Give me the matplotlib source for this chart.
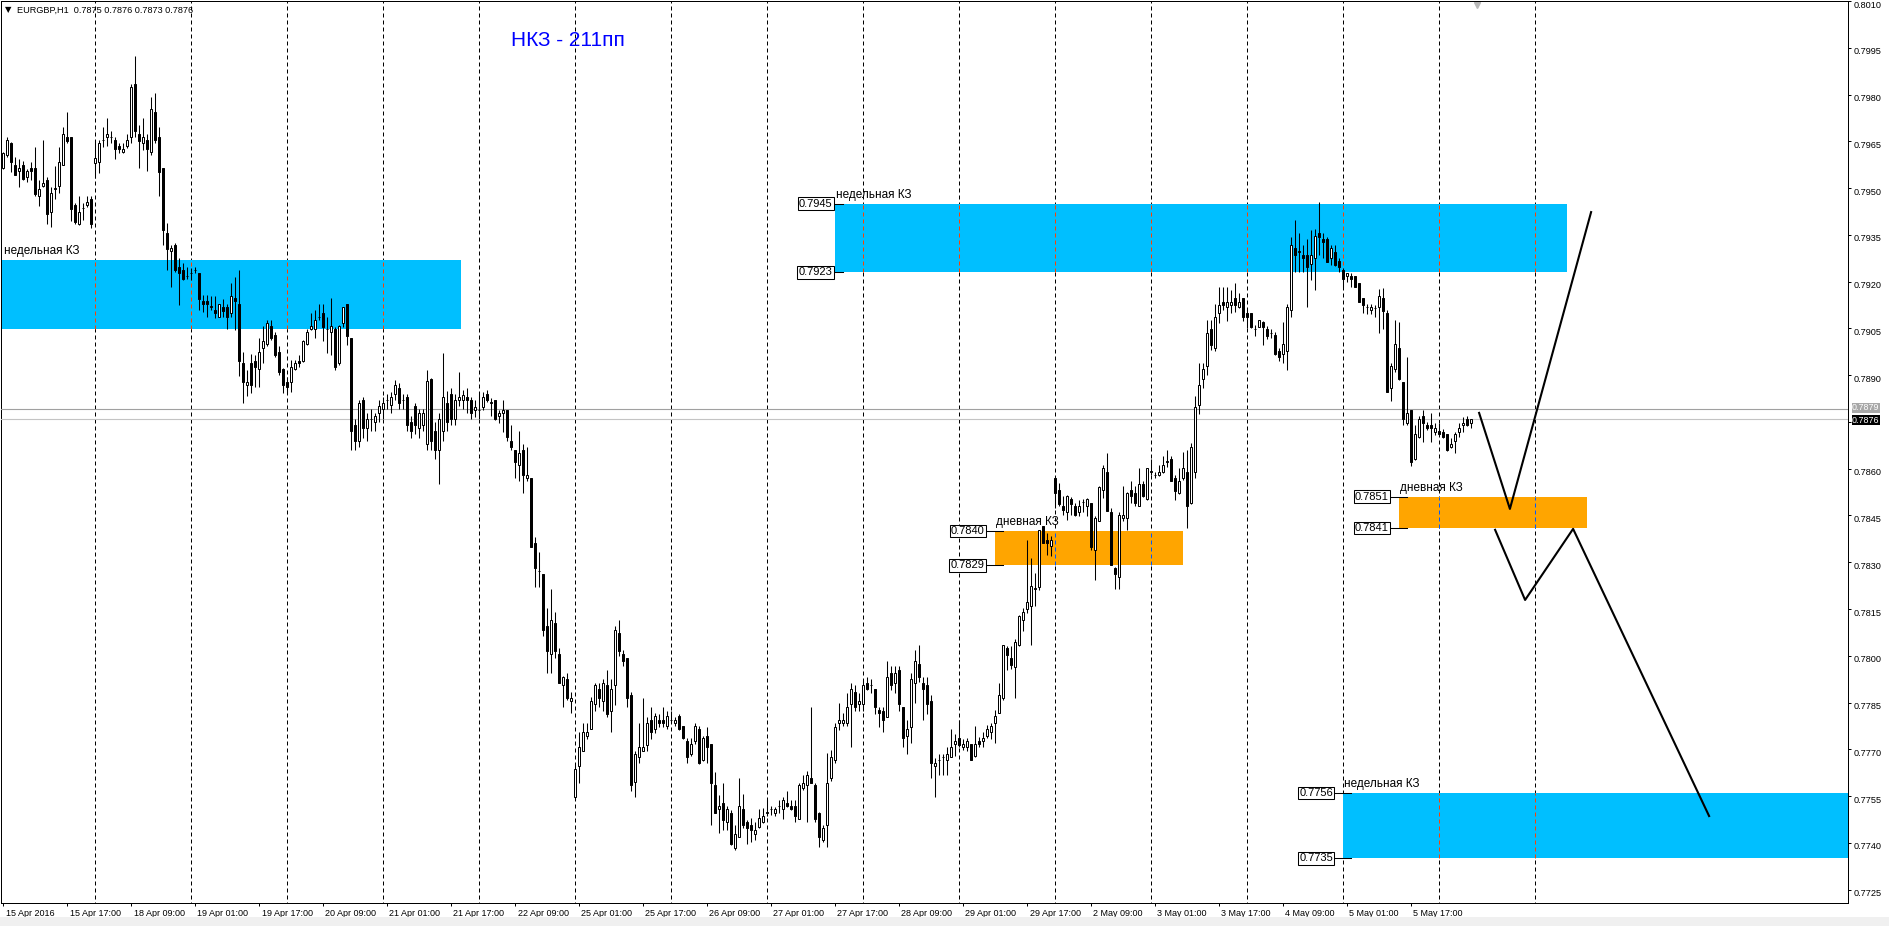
import matplotlib
matplotlib.use("Agg")
import matplotlib.pyplot as plt
import matplotlib.transforms as mtransforms
from matplotlib.patches import Rectangle
import numpy as np

plt.rcParams['font.family'] = ['Liberation Sans', 'DejaVu Sans']

# EURGBP H1, one candle per hour from 15 Apr 2016 01:00, prices in pips (x 0.0001)
opens = [
    7956.3, 7960.5, 7964.4, 7957.3, 7955.4, 7957.3, 7953.5, 7956.5, 7956.5, 7947.3,
    7950.7, 7952.6, 7942.4, 7949.8, 7950.7, 7957.4, 7966.3, 7966.3, 7944.6, 7938.4,
    7943.5, 7944.5, 7946.5, 7958.2, 7958.3, 7965.4, 7966.3, 7966.3, 7965.4, 7963.5,
    7961.5, 7963.5, 7966.3, 7983.4, 7967.4, 7964.4, 7965.4, 7961.5, 7974.4, 7966.3,
    7956.5, 7935.5, 7929.7, 7931.8, 7924.6, 7923.7, 7921.8, 7922.7, 7923.7, 7922.7,
    7913.7, 7913.7, 7912.0, 7910.9, 7908.8, 7911.8, 7911.8, 7909.8, 7914.7, 7912.7,
    7893.8, 7886.9, 7893.8, 7894.7, 7891.9, 7898.6, 7899.9, 7905.9, 7902.9, 7897.5,
    7891.9, 7887.7, 7887.7, 7891.9, 7894.7, 7894.7, 7899.9, 7904.7, 7904.7, 7908.6,
    7909.8, 7904.7, 7903.7, 7904.7, 7893.8, 7906.6, 7912.7, 7901.8, 7874.0, 7869.0,
    7882.0, 7873.0, 7876.0, 7875.0, 7878.0, 7879.0, 7882.0, 7880.5, 7884.0, 7886.0,
    7882.0, 7883.0, 7875.0, 7880.0, 7873.0, 7874.0, 7868.0, 7888.7, 7872.0, 7866.0,
    7872.0, 7881.0, 7884.0, 7876.0, 7882.0, 7882.0, 7883.0, 7882.1, 7878.9, 7878.9,
    7879.9, 7883.9, 7881.2, 7882.1, 7876.9, 7877.8, 7878.9, 7869.0, 7866.0, 7861.2,
    7866.0, 7856.9, 7856.9, 7836.1, 7827.2, 7826.2, 7809.4, 7800.6, 7810.4, 7800.6,
    7790.5, 7792.5, 7785.4, 7754.6, 7764.5, 7769.3, 7774.4, 7776.5, 7784.5, 7789.3,
    7785.4, 7790.6, 7782.4, 7790.7, 7807.2, 7800.6, 7799.2, 7787.4, 7759.5, 7767.5,
    7769.3, 7771.4, 7779.4, 7776.5, 7779.4, 7779.4, 7777.5, 7779.4, 7778.4, 7780.7,
    7777.5, 7772.7, 7768.5, 7772.7, 7776.5, 7766.6, 7774.4, 7771.8, 7758.6, 7750.8,
    7752.7, 7746.8, 7749.5, 7738.3, 7741.8, 7750.8, 7746.8, 7745.8, 7742.9, 7745.0,
    7746.8, 7749.7, 7750.8, 7749.7, 7751.9, 7750.8, 7752.7, 7751.9, 7751.9, 7747.6,
    7757.5, 7758.6, 7760.7, 7758.6, 7749.5, 7741.0, 7745.8, 7760.7, 7766.6, 7778.4,
    7778.4, 7778.4, 7784.5, 7788.4, 7784.5, 7784.5, 7791.4, 7790.6, 7789.3, 7782.7,
    7782.4, 7780.5, 7794.4, 7791.4, 7795.5, 7783.5, 7774.4, 7777.3, 7791.4, 7797.4,
    7791.4, 7790.6, 7785.4, 7764.5, 7766.6, 7767.5, 7766.6, 7767.5, 7771.8, 7773.6,
    7770.9, 7770.9, 7771.8, 7767.7, 7772.8, 7772.8, 7774.3, 7775.7, 7778.4, 7781.6,
    7786.4, 7802.4, 7799.2, 7796.4, 7803.5, 7811.5, 7815.0, 7816.1, 7821.5, 7822.0,
    7841.5, 7837.2, 7835.3, 7857.0, 7853.2, 7848.1, 7846.1, 7850.2, 7848.1, 7846.1,
    7849.2, 7848.1, 7849.0, 7834.0, 7843.1, 7853.2, 7859.1, 7846.1, 7828.1, 7825.2,
    7844.1, 7844.1, 7853.2, 7852.2, 7848.1, 7855.1, 7850.3, 7859.1, 7858.0, 7858.0,
    7859.1, 7862.3, 7863.1, 7857.0, 7852.2, 7857.0, 7859.1, 7849.0, 7859.1, 7880.5,
    7888.7, 7892.8, 7904.7, 7898.6, 7909.8, 7913.6, 7911.8, 7912.5, 7914.7, 7911.8,
    7914.7, 7909.8, 7909.8, 7904.7, 7905.6, 7906.9, 7904.7, 7903.6, 7902.9, 7897.8,
    7896.7, 7897.6, 7910.9, 7930.7, 7929.6, 7928.6, 7928.6, 7925.7, 7927.5, 7935.5,
    7933.6, 7933.6, 7927.5, 7929.6, 7926.6, 7923.7, 7921.8, 7921.8, 7921.8, 7919.7,
    7914.7, 7911.8, 7910.9, 7911.4, 7911.8, 7914.7, 7909.8, 7885.8, 7891.9, 7898.6,
    7887.7, 7874.8, 7878.8, 7863.0, 7870.1, 7876.9, 7874.0, 7874.0, 7871.9, 7872.2,
    7871.9, 7871.1, 7866.9, 7869.0, 7871.9, 7874.0, 7875.9, 7874.8,
]
highs = [
    7961.7, 7966.3, 7964.9, 7960.1, 7959.4, 7958.7, 7956.2, 7958.4, 7963.3, 7952.6,
    7965.4, 7953.6, 7950.5, 7957.2, 7963.3, 7969.5, 7974.4, 7966.5, 7945.1, 7947.5,
    7945.1, 7947.3, 7947.3, 7965.4, 7965.4, 7969.5, 7972.4, 7968.4, 7966.3, 7964.4,
    7964.4, 7967.4, 7983.4, 7992.5, 7970.2, 7972.4, 7967.4, 7979.3, 7980.4, 7969.5,
    7956.5, 7938.7, 7931.8, 7932.3, 7927.5, 7925.9, 7924.8, 7924.3, 7924.8, 7922.7,
    7915.7, 7915.7, 7915.5, 7915.5, 7912.7, 7914.3, 7912.7, 7919.7, 7921.6, 7923.7,
    7897.5, 7891.7, 7896.8, 7896.5, 7901.8, 7905.9, 7907.7, 7907.7, 7904.0, 7899.2,
    7892.2, 7889.5, 7894.9, 7894.9, 7896.5, 7901.3, 7904.7, 7909.8, 7910.9, 7912.7,
    7912.7, 7908.6, 7914.7, 7905.6, 7906.1, 7912.0, 7912.7, 7901.8, 7876.0, 7882.0,
    7883.0, 7878.0, 7879.0, 7878.0, 7882.0, 7883.0, 7884.0, 7884.7, 7888.5, 7887.4,
    7884.0, 7884.0, 7877.0, 7881.0, 7879.0, 7879.0, 7891.7, 7889.0, 7875.0, 7878.0,
    7897.0, 7885.0, 7886.0, 7884.0, 7891.0, 7885.3, 7885.8, 7883.0, 7882.1, 7884.7,
    7884.7, 7885.1, 7882.6, 7882.1, 7878.9, 7882.1, 7878.9, 7874.1, 7866.0, 7872.1,
    7867.9, 7866.9, 7856.9, 7838.2, 7833.2, 7826.2, 7815.3, 7821.3, 7814.2, 7802.4,
    7793.6, 7794.4, 7788.5, 7765.6, 7775.7, 7778.4, 7778.4, 7786.7, 7791.4, 7791.4,
    7792.5, 7795.5, 7792.5, 7809.4, 7811.5, 7801.9, 7799.2, 7788.4, 7769.3, 7778.4,
    7786.5, 7780.5, 7783.5, 7781.6, 7781.4, 7783.5, 7782.4, 7782.4, 7780.5, 7781.4,
    7777.5, 7773.5, 7773.5, 7778.4, 7777.5, 7774.3, 7777.3, 7771.8, 7762.8, 7755.4,
    7759.3, 7751.9, 7750.6, 7745.8, 7760.7, 7755.7, 7747.4, 7747.9, 7746.8, 7750.8,
    7751.1, 7753.8, 7751.9, 7751.6, 7753.8, 7754.6, 7756.5, 7753.8, 7753.8, 7759.1,
    7761.8, 7762.9, 7783.7, 7759.3, 7750.0, 7745.8, 7768.8, 7769.8, 7778.4, 7784.8,
    7781.6, 7788.0, 7791.4, 7790.6, 7788.0, 7792.3, 7793.3, 7792.5, 7789.3, 7783.5,
    7783.5, 7798.2, 7796.6, 7796.6, 7796.6, 7783.5, 7779.4, 7794.4, 7801.9, 7803.5,
    7793.3, 7793.3, 7787.5, 7767.2, 7768.5, 7768.5, 7770.7, 7776.5, 7775.0, 7779.5,
    7773.3, 7773.6, 7771.8, 7777.5, 7773.9, 7775.7, 7777.9, 7778.4, 7782.7, 7791.2,
    7803.5, 7803.0, 7803.0, 7805.3, 7813.1, 7815.3, 7837.2, 7831.3, 7826.5, 7840.4,
    7841.5, 7839.5, 7838.3, 7857.2, 7855.4, 7851.1, 7851.6, 7850.9, 7849.0, 7850.0,
    7850.2, 7850.5, 7849.0, 7844.7, 7854.3, 7861.2, 7865.0, 7847.3, 7828.6, 7846.0,
    7854.3, 7852.4, 7856.2, 7854.3, 7860.2, 7856.2, 7860.2, 7863.2, 7859.1, 7861.2,
    7864.1, 7866.1, 7864.1, 7858.0, 7860.2, 7865.2, 7866.1, 7868.2, 7883.2, 7893.8,
    7894.0, 7907.7, 7907.7, 7912.8, 7918.4, 7918.4, 7918.4, 7917.3, 7919.7, 7916.3,
    7914.7, 7911.4, 7909.8, 7906.1, 7907.7, 7907.5, 7905.8, 7904.7, 7904.0, 7898.6,
    7906.9, 7912.8, 7934.4, 7939.8, 7935.5, 7931.8, 7933.6, 7936.6, 7936.8, 7945.4,
    7935.5, 7934.4, 7931.8, 7931.8, 7927.5, 7924.3, 7922.9, 7922.9, 7921.8, 7919.7,
    7914.7, 7912.8, 7912.8, 7912.5, 7917.5, 7917.9, 7910.9, 7894.0, 7907.7, 7906.9,
    7887.7, 7895.9, 7878.8, 7874.0, 7876.9, 7878.8, 7875.1, 7877.8, 7874.8, 7874.8,
    7872.6, 7871.1, 7869.8, 7871.9, 7874.6, 7876.7, 7876.9, 7876.0,
]
lows = [
    7956.0, 7960.1, 7955.3, 7954.3, 7950.5, 7952.6, 7952.1, 7952.6, 7947.3, 7944.4,
    7950.5, 7938.4, 7937.4, 7946.4, 7948.3, 7957.3, 7964.3, 7939.5, 7938.4, 7938.2,
    7939.8, 7944.0, 7937.3, 7953.1, 7954.7, 7963.3, 7963.5, 7964.4, 7959.4, 7961.2,
    7961.4, 7962.8, 7964.4, 7966.5, 7956.3, 7962.2, 7955.4, 7960.5, 7964.4, 7947.3,
    7931.8, 7923.7, 7918.4, 7923.2, 7912.5, 7920.5, 7920.7, 7920.5, 7922.7, 7910.9,
    7910.4, 7908.8, 7910.9, 7908.2, 7908.5, 7908.8, 7904.7, 7908.8, 7904.5, 7889.7,
    7881.0, 7883.3, 7884.2, 7886.3, 7886.3, 7893.8, 7899.2, 7901.3, 7895.9, 7890.1,
    7884.2, 7883.9, 7884.7, 7891.7, 7892.7, 7894.3, 7899.7, 7904.5, 7901.8, 7907.7,
    7900.8, 7897.0, 7896.5, 7891.7, 7893.3, 7905.6, 7899.7, 7866.0, 7866.0, 7867.0,
    7870.0, 7869.0, 7872.0, 7872.0, 7875.0, 7876.0, 7879.0, 7878.0, 7882.0, 7879.0,
    7879.0, 7872.0, 7870.0, 7871.0, 7870.0, 7872.0, 7866.0, 7866.0, 7863.0, 7855.0,
    7869.0, 7872.0, 7874.0, 7874.0, 7880.0, 7879.0, 7877.8, 7876.0, 7876.7, 7875.9,
    7878.9, 7881.5, 7876.9, 7875.7, 7874.8, 7871.9, 7869.0, 7866.0, 7856.9, 7855.9,
    7852.1, 7855.9, 7835.0, 7822.2, 7822.2, 7806.2, 7794.4, 7794.4, 7799.2, 7791.4,
    7783.5, 7785.9, 7781.6, 7754.6, 7759.3, 7769.3, 7773.3, 7776.5, 7782.4, 7783.5,
    7782.4, 7780.5, 7775.5, 7784.3, 7799.8, 7796.6, 7783.5, 7756.5, 7754.6, 7765.6,
    7769.3, 7769.3, 7773.3, 7775.2, 7777.3, 7777.3, 7776.5, 7778.4, 7777.5, 7776.2,
    7773.3, 7765.6, 7767.7, 7771.8, 7765.3, 7766.4, 7765.6, 7745.8, 7749.5, 7743.1,
    7744.2, 7744.0, 7739.4, 7737.8, 7741.8, 7744.7, 7739.7, 7740.4, 7741.0, 7744.7,
    7746.5, 7748.7, 7749.0, 7748.7, 7749.5, 7747.6, 7751.6, 7750.6, 7746.8, 7747.6,
    7757.0, 7746.8, 7759.1, 7746.8, 7738.6, 7740.4, 7738.6, 7759.7, 7765.6, 7776.2,
    7777.5, 7777.5, 7770.7, 7782.4, 7782.4, 7782.4, 7789.1, 7788.0, 7781.4, 7777.3,
    7775.5, 7780.5, 7789.1, 7788.0, 7782.4, 7770.7, 7768.5, 7772.0, 7785.0, 7791.7,
    7779.4, 7781.4, 7760.7, 7754.6, 7761.8, 7761.8, 7761.8, 7767.5, 7767.7, 7770.9,
    7769.8, 7769.3, 7766.6, 7767.5, 7770.9, 7770.9, 7773.6, 7773.3, 7772.0, 7781.6,
    7785.7, 7795.5, 7795.7, 7786.4, 7803.0, 7808.1, 7813.7, 7803.3, 7816.0, 7821.2,
    7836.1, 7832.4, 7832.1, 7847.3, 7847.9, 7845.2, 7843.6, 7845.2, 7844.9, 7844.7,
    7846.0, 7844.9, 7834.0, 7824.4, 7843.1, 7850.5, 7846.3, 7829.0, 7821.4, 7821.4,
    7843.1, 7840.4, 7849.0, 7847.9, 7847.9, 7850.9, 7850.0, 7858.0, 7857.0, 7857.5,
    7858.6, 7860.7, 7856.0, 7850.0, 7852.0, 7856.4, 7841.1, 7848.7, 7857.0, 7877.5,
    7885.8, 7890.1, 7898.1, 7897.6, 7906.6, 7910.9, 7907.5, 7909.8, 7910.4, 7911.4,
    7907.5, 7905.0, 7905.0, 7902.6, 7905.4, 7899.7, 7901.5, 7901.8, 7896.5, 7894.7,
    7893.8, 7891.7, 7908.6, 7923.2, 7923.2, 7923.2, 7911.8, 7920.5, 7917.3, 7928.6,
    7927.5, 7926.4, 7925.3, 7925.0, 7923.2, 7918.4, 7920.0, 7918.4, 7918.2, 7913.6,
    7909.8, 7909.6, 7909.6, 7908.8, 7903.6, 7904.7, 7884.7, 7881.8, 7891.1, 7888.5,
    7874.0, 7874.0, 7860.9, 7862.8, 7869.8, 7868.7, 7872.4, 7868.7, 7870.8, 7870.8,
    7869.8, 7865.8, 7866.6, 7864.9, 7870.3, 7871.9, 7873.7, 7873.0,
]
closes = [
    7961.4, 7965.4, 7958.3, 7954.3, 7956.5, 7952.8, 7955.4, 7955.4, 7948.1, 7949.6,
    7951.5, 7941.6, 7948.3, 7949.8, 7958.3, 7967.4, 7965.2, 7943.4, 7939.2, 7942.4,
    7943.5, 7945.4, 7938.4, 7959.5, 7964.4, 7965.4, 7967.2, 7966.3, 7962.4, 7962.4,
    7962.4, 7965.4, 7982.5, 7968.2, 7965.2, 7966.3, 7962.4, 7975.4, 7965.4, 7955.3,
    7936.4, 7930.6, 7930.7, 7923.7, 7922.7, 7920.7, 7921.8, 7922.7, 7923.7, 7914.5,
    7912.7, 7912.7, 7912.0, 7909.8, 7912.7, 7910.7, 7908.6, 7915.5, 7913.7, 7894.7,
    7887.7, 7887.7, 7886.9, 7892.7, 7897.5, 7900.8, 7906.6, 7901.8, 7896.6, 7890.9,
    7886.9, 7886.3, 7892.7, 7894.0, 7893.8, 7900.8, 7903.7, 7905.9, 7907.7, 7908.6,
    7905.6, 7904.7, 7905.8, 7892.5, 7905.9, 7911.8, 7902.7, 7872.0, 7869.0, 7881.0,
    7873.0, 7876.0, 7876.0, 7877.0, 7880.0, 7881.0, 7882.0, 7883.0, 7887.0, 7881.0,
    7882.0, 7874.0, 7872.0, 7874.0, 7878.0, 7878.0, 7888.0, 7869.0, 7866.0, 7876.0,
    7883.0, 7875.0, 7876.0, 7882.0, 7883.0, 7883.7, 7882.0, 7877.8, 7879.9, 7878.9,
    7882.9, 7882.1, 7881.2, 7875.9, 7877.8, 7878.9, 7870.1, 7866.9, 7862.1, 7865.0,
    7858.0, 7858.0, 7835.0, 7828.1, 7827.2, 7808.3, 7801.4, 7811.5, 7801.4, 7791.4,
    7793.3, 7786.3, 7786.5, 7763.6, 7770.7, 7775.5, 7775.5, 7785.4, 7790.6, 7786.3,
    7791.4, 7781.4, 7789.3, 7808.3, 7801.4, 7798.2, 7786.3, 7758.6, 7768.5, 7770.7,
    7770.7, 7778.4, 7775.5, 7780.7, 7778.4, 7778.4, 7780.7, 7779.4, 7779.4, 7776.5,
    7773.5, 7767.5, 7771.8, 7777.5, 7765.6, 7773.5, 7770.7, 7759.3, 7749.5, 7751.9,
    7747.4, 7750.8, 7739.7, 7742.9, 7751.9, 7745.8, 7744.7, 7744.0, 7744.0, 7747.9,
    7748.7, 7749.7, 7750.8, 7750.8, 7751.9, 7753.8, 7751.9, 7750.8, 7748.7, 7758.6,
    7759.3, 7761.8, 7759.3, 7747.6, 7741.8, 7744.7, 7759.3, 7767.5, 7777.3, 7779.4,
    7779.4, 7783.5, 7789.3, 7783.5, 7785.4, 7790.6, 7789.3, 7790.6, 7783.5, 7781.6,
    7779.4, 7793.3, 7790.6, 7794.4, 7784.5, 7773.5, 7776.5, 7792.5, 7798.2, 7793.3,
    7789.3, 7784.5, 7765.6, 7765.6, 7766.6, 7767.5, 7768.5, 7770.9, 7772.8, 7771.4,
    7771.8, 7772.8, 7766.6, 7771.8, 7771.8, 7773.6, 7776.5, 7777.5, 7780.7, 7787.5,
    7803.5, 7800.3, 7797.1, 7804.4, 7812.6, 7814.2, 7817.1, 7822.4, 7821.5, 7840.2,
    7836.1, 7836.1, 7837.2, 7852.2, 7848.7, 7846.8, 7851.1, 7848.7, 7845.2, 7848.1,
    7849.2, 7850.3, 7835.0, 7844.1, 7854.1, 7860.2, 7846.3, 7829.0, 7826.3, 7845.2,
    7845.2, 7852.2, 7851.1, 7849.0, 7855.1, 7851.3, 7860.2, 7859.1, 7858.0, 7859.1,
    7861.2, 7862.3, 7856.2, 7853.0, 7856.2, 7860.2, 7848.1, 7867.1, 7879.9, 7887.0,
    7891.9, 7903.6, 7899.7, 7908.6, 7912.5, 7912.5, 7913.6, 7913.6, 7912.5, 7913.6,
    7908.6, 7908.6, 7905.6, 7904.7, 7907.7, 7905.6, 7902.6, 7903.6, 7896.7, 7895.7,
    7900.0, 7911.8, 7931.8, 7928.6, 7929.6, 7927.5, 7924.6, 7928.6, 7934.6, 7934.4,
    7932.6, 7926.4, 7930.7, 7925.3, 7924.6, 7920.8, 7922.7, 7920.8, 7918.4, 7913.6,
    7912.5, 7911.8, 7911.8, 7911.4, 7915.4, 7910.7, 7884.7, 7892.8, 7900.0, 7888.7,
    7875.9, 7878.0, 7862.0, 7871.1, 7875.9, 7874.8, 7873.0, 7873.0, 7873.0, 7871.1,
    7870.1, 7866.0, 7868.0, 7871.1, 7873.0, 7874.8, 7874.0, 7875.9,
]

time_labels = [
    "15 Apr 2016", "15 Apr 17:00", "18 Apr 09:00", "19 Apr 01:00", "19 Apr 17:00",
    "20 Apr 09:00", "21 Apr 01:00", "21 Apr 17:00", "22 Apr 09:00", "25 Apr 01:00",
    "25 Apr 17:00", "26 Apr 09:00", "27 Apr 01:00", "27 Apr 17:00", "28 Apr 09:00",
    "29 Apr 01:00", "29 Apr 17:00", "2 May 09:00", "3 May 01:00", "3 May 17:00",
    "4 May 09:00", "5 May 01:00", "5 May 17:00",
]
label_bars = list(range(0, 353, 16))
day_start_bars = list(range(23, 384, 24))   # 00:00 of every trading day

# zones: left bar, right bar, top, bottom, kind
zone_left = [-1.0, 207.9, 247.9, 349.0, 335.0]
zone_right = [114.5, 390.9, 294.8, 395.8, 470.0]
zone_top = [0.79268, 0.7945, 0.7840, 0.7851, 0.7756]
zone_bottom = [0.79049, 0.7923, 0.7829, 0.7841, 0.7735]
zone_kind = ["week", "week", "day", "day", "week"]
zone_tagged = [False, True, True, True, True]
zone_tag_gap = [0, 0.5, 2.5, 2.5, 2.5]      # distance of the price tag from the zone, bars

# hand-drawn projection
proj_a_bars = [368.9, 376.6, 396.9]
proj_a_prices = [0.78779, 0.78471, 0.79423]
proj_b_bars = [372.9, 380.4, 392.4, 426.4]
proj_b_prices = [0.78404, 0.78179, 0.78407, 0.77486]

ask_price = 0.7879
bid_price = 0.7876

o = np.array(opens) / 10000
h = np.array(highs) / 10000
l = np.array(lows) / 10000
c = np.array(closes) / 10000
x = np.arange(len(c))

fig = plt.figure(figsize=(18.9, 9.26), dpi=100)
W, H = 1890, 926
ax = fig.add_axes([1 / W, 23 / H, 1847 / W, 902 / H])
ax.set_xlim(-0.625, 461.125)
ax.set_ylim(0.772071, 0.8010)
PX = 0.25                    # one pixel in bars
PY = (0.8010 - 0.772071) / 902  # one pixel in price

kind_colour = {"week": "#00bfff", "day": "#ffa500"}
kind_inverse = {"week": "#ff4000", "day": "#005aff"}
kind_caption = {"week": "недельная КЗ", "day": "дневная КЗ"}
dash = (0, (4, 3))

# period separators
ax.vlines(day_start_bars, 0.770, 0.802, colors="black", linestyles=dash, lw=0.72, zorder=1)

for zl, zr, zt, zb, kind, tagged, gap in zip(zone_left, zone_right, zone_top, zone_bottom,
                                             zone_kind, zone_tagged, zone_tag_gap):
    ax.add_patch(Rectangle((zl, zb), zr - zl, zt - zb, facecolor=kind_colour[kind],
                           edgecolor="none", zorder=2))
    inside = [b for b in day_start_bars if zl < b < zr]
    ax.vlines(inside, zb, zt, colors=kind_inverse[kind], linestyles=dash, lw=0.72, zorder=3)
    ax.text(max(zl, 0) + PX, zt + 3 * PY, kind_caption[kind], fontsize=8.5,
            ha="left", va="bottom", zorder=6)
    if tagged:
        for p in (zt, zb):
            ax.plot([zl - gap, zl + 2], [p, p], color="black", lw=0.75, zorder=6)
            ax.text(zl - gap - 0.5 * PX, p, "%.4f" % p, fontsize=8, ha="right", va="center",
                    zorder=7, bbox=dict(boxstyle="square,pad=0.12", fc="white", ec="black", lw=0.75))

# bid / ask lines
ax.axhline(ask_price, color="#a0a0a0", lw=0.8, zorder=3)
ax.axhline(bid_price, color="#c4c4c4", lw=0.8, zorder=3)

# candles
up = c >= o
ax.vlines(x, l, h, colors="black", lw=0.75, zorder=4)
body = np.maximum(np.abs(c - o), 0.000008)
ax.bar(x, body, bottom=np.minimum(o, c), width=0.5,
       color=np.where(up, "white", "black"), edgecolor="black", lw=0.72, zorder=5)

ax.plot(proj_a_bars, proj_a_prices, color="black", lw=1.5, zorder=6)
ax.plot(proj_b_bars, proj_b_prices, color="black", lw=1.5, zorder=6)

ax.text(127.0, 0.8010 - 39 * PY, "НКЗ - 211пп", fontsize=15, color="#0000ff",
        ha="left", va="center")

# axes styling
for s in ax.spines.values():
    s.set_linewidth(0.72)
    s.set_color("black")
ax.yaxis.tick_right()
yt = np.round(np.arange(0.7725, 0.80101, 0.0015), 4)
# the scale label next to the bid/ask tags is covered by them in the terminal
ax.set_yticks(yt, ["" if abs(v - bid_price) < 0.0004 else "%.4f" % v for v in yt])
ax.tick_params(axis="y", direction="out", length=2.5, width=0.72, pad=1.5, labelsize=6.6)
down = mtransforms.ScaledTranslation(0, -3 / 100, fig.dpi_scale_trans)
for t in ax.get_yticklabels():
    t.set_transform(t.get_transform() + down)
ax.set_xticks(label_bars, time_labels)
ax.tick_params(axis="x", direction="out", length=2.5, width=0.72, pad=1.5, labelsize=6.5)
shift = mtransforms.ScaledTranslation(2 / 100, 0, fig.dpi_scale_trans)
for t in ax.get_xticklabels():
    t.set_ha("left")
    t.set_transform(t.get_transform() + shift)

# price tags on the scale
btr = mtransforms.blended_transform_factory(ax.transAxes, ax.transData)
ax.text(1.0 + 4 / 1847, ask_price + 1.5 * PY, "%.4f" % ask_price, transform=btr, fontsize=6.4,
        color="white", ha="left", va="center",
        bbox=dict(boxstyle="square,pad=0.05", fc="#a8a8a8", ec="none"))
ax.text(1.0 + 4 / 1847, bid_price - 1.5 * PY, "%.4f" % bid_price, transform=btr, fontsize=6.4,
        color="white", ha="left", va="center",
        bbox=dict(boxstyle="square,pad=0.05", fc="black", ec="none"))

# chart shift marker
ax.plot([368.5], [0.9955], marker="v", color="#b8b8b8", markersize=5,
        transform=mtransforms.blended_transform_factory(ax.transData, ax.transAxes), clip_on=False)

fig.text(5 / W, 1 - 10 / H, "▼", fontsize=6, family="DejaVu Sans", va="center")
fig.text(17 / W, 1 - 10 / H, "EURGBP,H1  0.7875 0.7876 0.7873 0.7876", fontsize=6.6, va="center")
fig.add_artist(Rectangle((0, 0), 1, 9 / H, transform=fig.transFigure, facecolor="#f0f0f0",
                         edgecolor="none"))

fig.savefig("out.png", dpi=100, facecolor="white")
